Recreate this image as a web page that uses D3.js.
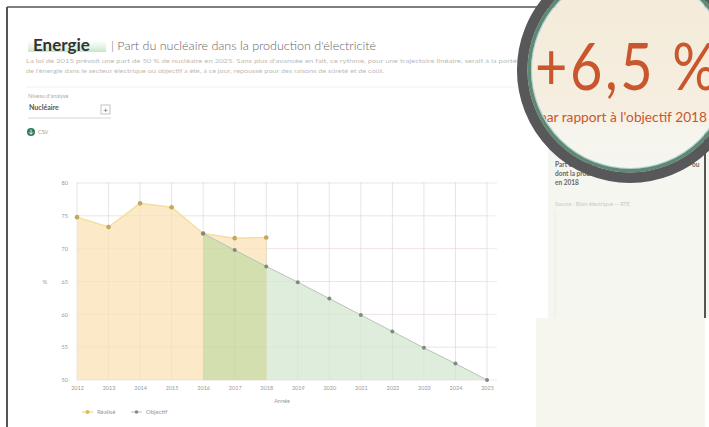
<!DOCTYPE html>
<html><head><meta charset="utf-8">
<script src="https://cdn.jsdelivr.net/npm/d3@7/dist/d3.min.js"></script>
<style>html,body{margin:0;padding:0;background:#fff;}svg{display:block;font-family:Lato,"Open Sans",sans-serif;}</style>
</head><body>
<script>
const years = [2012,2013,2014,2015,2016,2017,2018,2019,2020,2021,2022,2023,2024,2025];
const realise = [74.8,73.3,76.9,76.3,72.3,71.6,71.7,null,null,null,null,null,null,null];
const objectif = [null,null,null,null,72.3,69.8,67.3,64.9,62.4,59.9,57.4,54.9,52.5,50.0];
const yTicks = [50,55,60,65,70,75,80];
const bigValue = "+6,5 %";
const bigLabel = "par rapport à l'objectif 2018";

const W=709,H=427;
const svg=d3.select("body").append("svg").attr("width",W).attr("height",H);
const defs=svg.append("defs");

// frame
svg.append("line").attr("x1",7).attr("x2",7).attr("y1",7).attr("y2",H).attr("stroke","#555").attr("stroke-width",2);
svg.append("line").attr("x1",7).attr("x2",560).attr("y1",7).attr("y2",7).attr("stroke","#555").attr("stroke-width",1.5);

// sidebar
svg.append("rect").attr("x",548).attr("y",120).attr("width",161).attr("height",198).attr("fill","#f6f6f1");
svg.append("line").attr("x1",555).attr("x2",555).attr("y1",210).attr("y2",318).attr("stroke","#ecece6");
svg.append("rect").attr("x",536).attr("y",318).attr("width",169).attr("height",109).attr("fill","#f6f6ef");
svg.append("line").attr("x1",705).attr("x2",705).attr("y1",0).attr("y2",318).attr("stroke","#555").attr("stroke-width",2);
const side=svg.append("g").attr("font-size",6.5).attr("font-weight",700).attr("fill","#666");
side.append("text").attr("x",555).attr("y",167).text("Part du nucléaire");
side.append("text").attr("x",555).attr("y",176).text("dont la production");
side.append("text").attr("x",555).attr("y",185).text("en 2018");
side.append("text").attr("x",692).attr("y",167).text("ou");
svg.append("text").attr("x",555).attr("y",206).attr("font-size",5.5).attr("fill","#c8c8c8").text("Source : Bilan électrique — RTE");

// title
const tg=defs.append("linearGradient").attr("id","tglow").attr("x1",0).attr("x2",0).attr("y1",0).attr("y2",1);
tg.append("stop").attr("offset","0%").attr("stop-color","#d9efd9").attr("stop-opacity",0);
tg.append("stop").attr("offset","100%").attr("stop-color","#bfe3c2").attr("stop-opacity",0.9);
svg.append("rect").attr("x",28).attr("y",40).attr("width",78).attr("height",12).attr("fill","url(#tglow)");
svg.append("text").attr("x",33).attr("y",51).attr("font-size",17).attr("font-weight",700).attr("fill","#333").text("Energie");
svg.append("text").attr("x",111).attr("y",50).attr("font-size",12.5).attr("fill","#666").attr("font-weight",300)
  .text("| Part du nucléaire dans la production d'électricité");
svg.append("text").attr("x",26).attr("y",63).attr("font-size",5.3).attr("fill","#bdbdbd").attr("textLength",495).attr("lengthAdjust","spacingAndGlyphs")
  .text("La loi de 2015 prévoit une part de 50 % de nucléaire en 2025. Sans plus d'avancée en fait, ce rythme, pour une trajectoire linéaire, serait à la portée");
svg.append("text").attr("x",26).attr("y",73).attr("font-size",5.3).attr("fill","#bdbdbd").attr("textLength",358).attr("lengthAdjust","spacingAndGlyphs")
  .text("de l'énergie dans le secteur électrique où objectif a été, à ce jour, repoussé pour des raisons de sûreté et de coût.");
svg.append("line").attr("x1",26).attr("x2",530).attr("y1",87).attr("y2",87).attr("stroke","#f0f0f0");

// dropdown
svg.append("text").attr("x",28).attr("y",98).attr("font-size",5.5).attr("fill","#aaa").text("Niveau d'analyse");
svg.append("text").attr("x",29).attr("y",110).attr("font-size",7).attr("font-weight",700).attr("fill","#555").text("Nucléaire");
svg.append("rect").attr("x",101).attr("y",105).attr("width",9).attr("height",9).attr("fill","#fff").attr("stroke","#aaa").attr("stroke-width",0.7);
svg.append("text").attr("x",105.5).attr("y",112.5).attr("text-anchor","middle").attr("font-size",8).attr("fill","#666").text("+");
svg.append("line").attr("x1",28).attr("x2",111).attr("y1",118).attr("y2",118).attr("stroke","#ccc").attr("stroke-width",0.8);
svg.append("circle").attr("cx",31).attr("cy",132).attr("r",4).attr("fill","#2f7a5c");
svg.append("path").attr("d","M31,129.5V134M29,132.3L31,134.3L33,132.3").attr("stroke","#fff").attr("stroke-width",0.9).attr("fill","none");
svg.append("text").attr("x",38).attr("y",134).attr("font-size",5.5).attr("fill","#999").text("CSV");

// chart
const x=d3.scaleLinear().domain([years[0],years[years.length-1]]).range([77,487]);
const y=d3.scaleLinear().domain([50,80]).range([380,183]);
const g=svg.append("g");
g.append("g").selectAll("line").data(yTicks).join("line")
  .attr("x1",x.range()[0]).attr("x2",x.range()[1]+10).attr("y1",d=>y(d)).attr("y2",d=>y(d))
  .attr("stroke","#f0e4e4").attr("stroke-width",0.8);
g.append("g").selectAll("line").data(years).join("line")
  .attr("x1",d=>x(d)).attr("x2",d=>x(d)).attr("y1",y(80)-1).attr("y2",y(50))
  .attr("stroke","#e6e6e6").attr("stroke-width",0.8);

const R=years.map((yr,i)=>({yr,v:realise[i]})).filter(d=>d.v!=null);
const O=years.map((yr,i)=>({yr,v:objectif[i]})).filter(d=>d.v!=null);
const OR=years.map((yr,i)=>({yr,v:objectif[i],r:realise[i]})).filter(d=>d.v!=null&&d.r!=null);
const area=d3.area().x(d=>x(d.yr)).y0(y(50)).y1(d=>y(d.v));
const line=d3.line().x(d=>x(d.yr)).y(d=>y(d.v));
g.append("path").attr("d",area(R)).attr("fill","#fbe9c8");
g.append("path").attr("d",area(O)).attr("fill","#dcecda").attr("opacity",0.95);
g.append("path").attr("d",area(OR)).attr("fill","#d3dfae");
g.append("g").selectAll("line").data(years).join("line")
  .attr("x1",d=>x(d)).attr("x2",d=>x(d)).attr("y1",y(80)-1).attr("y2",y(50))
  .attr("stroke","#000").attr("stroke-opacity",0.04).attr("stroke-width",0.8);
g.append("g").selectAll("line").data(yTicks).join("line")
  .attr("x1",x.range()[0]).attr("x2",x.range()[1]).attr("y1",d=>y(d)).attr("y2",d=>y(d))
  .attr("stroke","#c08080").attr("stroke-opacity",0.08).attr("stroke-width",0.8);
g.append("line").attr("x1",x(2018)).attr("x2",x(2018)).attr("y1",y(71.7)).attr("y2",y(50)).attr("stroke","#e8dcb8").attr("stroke-width",0.8);

g.append("path").attr("d",line(R)).attr("fill","none").attr("stroke","#f3dfa2").attr("stroke-width",1.5);
g.append("path").attr("d",line(O)).attr("fill","none").attr("stroke","#b9c4b8").attr("stroke-width",1);
g.selectAll("circle.r").data(R).join("circle").attr("class","r").attr("cx",d=>x(d.yr)).attr("cy",d=>y(d.v)).attr("r",2.3).attr("fill","#c4a75a");
g.selectAll("circle.o").data(O).join("circle").attr("class","o").attr("cx",d=>x(d.yr)).attr("cy",d=>y(d.v)).attr("r",2).attr("fill","#7f8a80");

// axes
const yAxis=d3.axisLeft(y).tickValues(yTicks).tickSize(0).tickPadding(9);
const ya=svg.append("g").attr("transform",`translate(${x.range()[0]},0)`).call(yAxis);
ya.select(".domain").remove();
ya.selectAll("text").attr("font-size",5.5).attr("fill","#999").attr("font-family","Lato");
const xAxis=d3.axisBottom(x).tickValues(years).tickFormat(d3.format("d")).tickSize(0).tickPadding(6);
const xa=svg.append("g").attr("transform",`translate(0,${y(50)})`).call(xAxis);
xa.select(".domain").remove();
xa.selectAll("text").attr("font-size",5.5).attr("fill","#999").attr("font-family","Lato");
svg.append("text").attr("x",45).attr("y",284).attr("font-size",6).attr("fill","#999").attr("text-anchor","middle").text("%");
svg.append("text").attr("x",282).attr("y",403).attr("font-size",5.5).attr("fill","#999").attr("text-anchor","middle").text("Année");

// legend
const lg=svg.append("g").attr("font-size",6).attr("fill","#999");
lg.append("line").attr("x1",82).attr("x2",93).attr("y1",412).attr("y2",412).attr("stroke","#f3dfa2").attr("stroke-width",1.5);
lg.append("circle").attr("cx",87.5).attr("cy",412).attr("r",2).attr("fill","#d8bf52");
lg.append("text").attr("x",97).attr("y",414).text("Réalisé");
lg.append("line").attr("x1",131).attr("x2",142).attr("y1",412).attr("y2",412).attr("stroke","#b9c4b8").attr("stroke-width",1);
lg.append("circle").attr("cx",136.5).attr("cy",412).attr("r",1.8).attr("fill","#7f8a80");
lg.append("text").attr("x",146).attr("y",414).text("Objectif");

// magnifier
const cx=630,cy=70;
defs.append("clipPath").attr("id","lens").append("circle").attr("cx",cx).attr("cy",cy).attr("r",98);
const lgr=defs.append("linearGradient").attr("id","lensbg")
  .attr("gradientUnits","userSpaceOnUse").attr("x1",0).attr("x2",0).attr("y1",cy-98).attr("y2",cy+98);
lgr.append("stop").attr("offset","0%").attr("stop-color","#f4ebd9");
lgr.append("stop").attr("offset","55%").attr("stop-color","#f5eddd");
lgr.append("stop").attr("offset","70%").attr("stop-color","#f6eee0");
lgr.append("stop").attr("offset","80%").attr("stop-color","#f6f4ec");
lgr.append("stop").attr("offset","100%").attr("stop-color","#f5f6f0");
const lens=svg.append("g").attr("clip-path","url(#lens)");
lens.append("rect").attr("x",cx-100).attr("y",cy-100).attr("width",200).attr("height",200).attr("fill","url(#lensbg)");
lens.append("text").attr("transform","translate(535,90) scale(0.86,1)").attr("font-size",65).attr("font-weight",400)
  .attr("fill","#c9562c").attr("font-family","Lato").attr("letter-spacing",3).text(bigValue);
lens.append("text").attr("x",539).attr("y",122).attr("font-size",12.5).attr("font-weight",400).attr("fill","#c9562c")
  .attr("font-family","Lato").attr("textLength",168).attr("lengthAdjust","spacingAndGlyphs").text(bigLabel);
svg.append("circle").attr("cx",cx).attr("cy",cy).attr("r",98.5).attr("fill","none").attr("stroke","#b5d0de").attr("stroke-width",1.2);
svg.append("circle").attr("cx",cx).attr("cy",cy).attr("r",100.8).attr("fill","none").attr("stroke","#5f8a72").attr("stroke-width",3.5);
svg.append("circle").attr("cx",cx).attr("cy",cy).attr("r",107.8).attr("fill","none").attr("stroke","#58585a").attr("stroke-width",10.5);
</script>
</body></html>
